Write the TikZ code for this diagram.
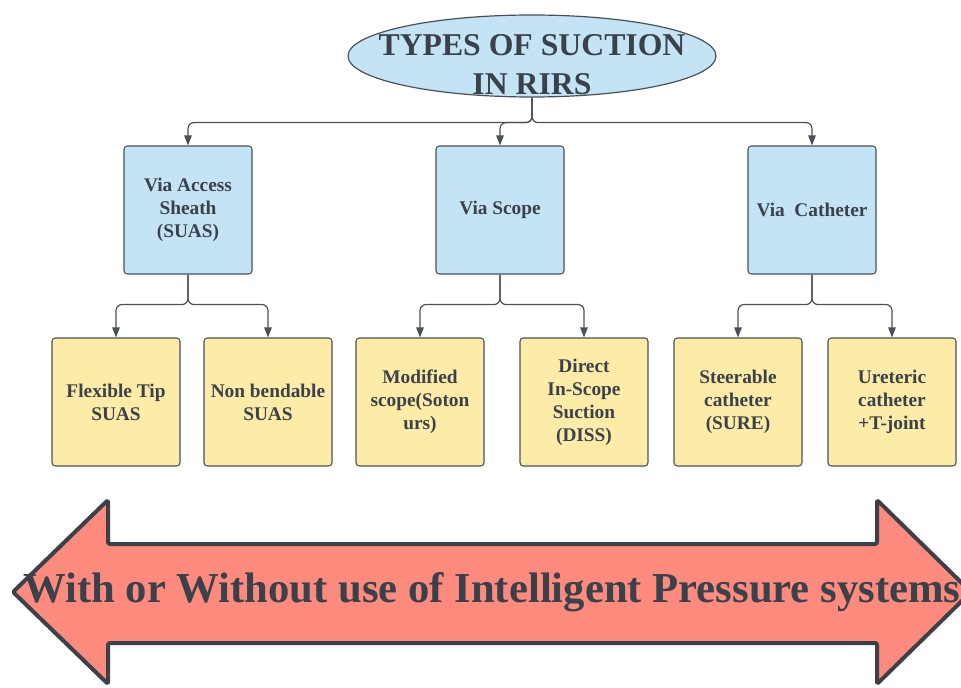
\documentclass[tikz,border=0pt]{standalone}
\usepackage{fontspec}
\setmainfont{Liberation Serif}
\usetikzlibrary{arrows.meta,shapes.geometric}
\definecolor{ink}{HTML}{3A414A}
\definecolor{edge}{HTML}{4A5058}
\definecolor{skyfill}{HTML}{C4E4F6}
\definecolor{sandfill}{HTML}{FDEBA8}
\definecolor{salmon}{HTML}{FC8B7E}
\tikzset{
  titleshape/.style={ellipse, draw=edge, line width=0.9pt, fill=skyfill,
    minimum width=276pt, minimum height=61.5pt, inner sep=0pt},
  titletext/.style={text=ink, align=center, inner sep=0pt,
    font=\fontsize{23.8}{29}\selectfont\bfseries},
  catbox/.style={rectangle, rounded corners=2.5pt, draw=edge, line width=0.8pt,
    fill=skyfill, minimum width=96pt, minimum height=96pt, inner sep=0pt,
    text=ink, align=center, font=\fontsize{14.5}{17.3}\selectfont\bfseries},
  leafbox/.style={catbox, fill=sandfill},
  conn/.style={draw=edge, line width=0.9pt, rounded corners=4.5pt,
    -{Triangle[width=5.6pt,length=7.5pt]}},
  band/.style={draw=ink, line width=3pt, fill=salmon, line join=round,
    rounded corners=1.5pt},
  bandtext/.style={text=ink, inner sep=0pt,
    font=\fontsize{32}{36}\selectfont\bfseries}
}
\begin{document}
\begin{tikzpicture}[x=0.75pt,y=-0.75pt]
  \path[use as bounding box, clip] (0,0) rectangle (961,688);

  % root
  \node[titleshape] (title) at (532,56) {};
  \node[titletext] (titlelbl) at (532,64.5) {TYPES OF SUCTION\\IN RIRS};

  % suction routes
  \node[catbox] (v1) at (188,210) {Via Access\\Sheath\\(SUAS)};
  \node[catbox] (v2) at (500,210) {Via Scope};
  \node[catbox] (v3) at (812,210) {Via\ \ Catheter};

  % devices
  \node[leafbox] (y1) at (116,402) {Flexible Tip\\SUAS};
  \node[leafbox] (y2) at (268,402) {Non bendable\\SUAS};
  \node[leafbox] (y3) at (420,402) {Modified\\scope(Soton\\urs)};
  \node[leafbox] (y4) at (584,402) {Direct\\In-Scope\\Suction\\(DISS)};
  \node[leafbox] (y5) at (738,402) {Steerable\\catheter\\(SURE)};
  \node[leafbox] (y6) at (892,402) {Ureteric\\catheter\\+T-joint};

  % connectors
  \draw[conn] (title.south) -- ++(0,25) -| (v1.north);
  \draw[conn] (title.south) -- ++(0,25) -| (v2.north);
  \draw[conn] (title.south) -- ++(0,25) -| (v3.north);
  \draw[conn] (v1.south) -- ++(0,30) -| (y1.north);
  \draw[conn] (v1.south) -- ++(0,30) -| (y2.north);
  \draw[conn] (v2.south) -- ++(0,30) -| (y3.north);
  \draw[conn] (v2.south) -- ++(0,30) -| (y4.north);
  \draw[conn] (v3.south) -- ++(0,30) -| (y5.north);
  \draw[conn] (v3.south) -- ++(0,30) -| (y6.north);

  % double-headed band
  \draw[band] (13,592) -- (108,500) -- (108,544) -- (877,544) -- (877,500)
    -- (971,592) -- (877,684) -- (877,643) -- (108,643) -- (108,684) -- cycle;
  \node[bandtext, anchor=base] (note) at (492,602)
    {With or Without use of Intelligent Pressure systems};
\end{tikzpicture}
\end{document}
